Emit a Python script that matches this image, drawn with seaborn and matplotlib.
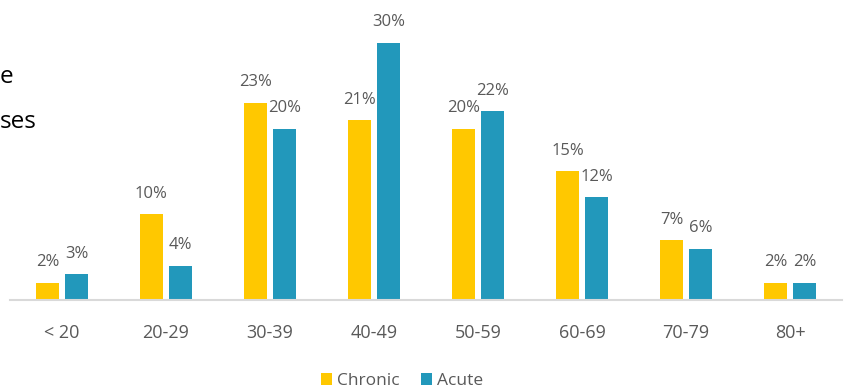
import matplotlib
matplotlib.use("Agg")
import matplotlib.pyplot as plt
import seaborn as sns
import pandas as pd
from matplotlib.patches import Patch

age_groups = ["< 20", "20-29", "30-39", "40-49", "50-59", "60-69", "70-79", "80+"]
chronic = [2, 10, 23, 21, 20, 15, 7, 2]
acute = [3, 4, 20, 30, 22, 12, 6, 2]
series = ["Chronic", "Acute"]
colors = {"Chronic": "#FFC800", "Acute": "#2298BB"}

df = pd.DataFrame({
    "age": age_groups * 2,
    "value": chronic + acute,
    "type": ["Chronic"] * len(age_groups) + ["Acute"] * len(age_groups),
})

sns.set_style("white")
plt.rcParams["font.family"] = ["Open Sans", "DejaVu Sans"]

fig = plt.figure(figsize=(8.48, 3.91), dpi=100)
ax = fig.add_axes([10 / 848, 91 / 391, 832 / 848, 300 / 391])

sns.barplot(data=df, x="age", y="value", hue="type", hue_order=series,
            order=age_groups, palette=colors, width=0.56, gap=0.2,
            saturation=1, ax=ax, legend=False, edgecolor="none")

for container in ax.containers:
    for bar in container:
        h = bar.get_height()
        ax.annotate(f"{h:.0f}%", (bar.get_x() + bar.get_width() / 2, h),
                    xytext=(0, 9), textcoords="offset points",
                    ha="center", va="bottom", fontsize=12, color="#595959")

ax.set_ylim(0, 35)
ax.set_xlim(-0.5, len(age_groups) - 0.5)
ax.set_xlabel("")
ax.set_ylabel("")
ax.set_yticks([])
for side in ["top", "right", "left"]:
    ax.spines[side].set_visible(False)
ax.spines["bottom"].set_color("#D9D9D9")
ax.spines["bottom"].set_linewidth(1.5)
ax.tick_params(axis="x", length=0, pad=17, labelsize=13, labelcolor="#595959")

handles = [Patch(facecolor=colors[s], edgecolor="none") for s in series]
fig.legend(handles, series, loc="center", bbox_to_anchor=(402 / 848, 1 - 381 / 391),
           ncol=2, frameon=False, fontsize=12.5, handlelength=0.65, handleheight=0.65,
           handletextpad=0.3, columnspacing=1.2, labelcolor="#595959")

fig.text(0, 1 - 77 / 391, "e", ha="left", va="center", fontsize=17.5, color="black")
fig.text(0, 1 - 122 / 391, "ses", ha="left", va="center", fontsize=17.5, color="black")

fig.savefig("out.png", dpi=100)
